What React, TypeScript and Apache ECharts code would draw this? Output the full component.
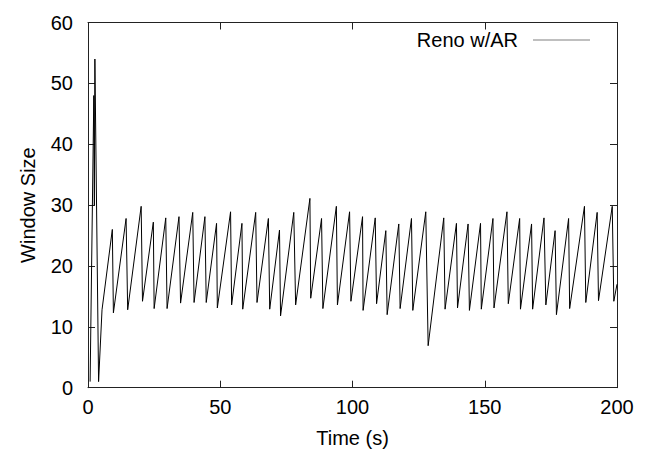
import React, { useEffect, useRef } from "react";
import * as echarts from "echarts";

const times: number[] = [
  0.8, 2.2, 2.4, 2.6, 4.0, 5.3,
  9.2, 9.6, 14.4, 15.0, 20.1, 20.6, 24.7, 25.0, 29.4, 29.9, 34.4, 35.0, 39.6, 40.1,
  44.2, 44.7, 48.6, 48.9, 53.9, 54.3, 58.2, 58.5, 63.4, 63.9, 68.2, 68.7, 72.4, 72.8,
  77.8, 78.5, 83.9, 84.2, 88.3, 88.8, 93.9, 94.3, 98.9, 99.4, 103.8, 104.0, 108.6, 109.1,
  112.6, 113.1, 117.5, 118.0, 122.3, 122.8, 127.7, 128.6, 134.5, 135.0, 139.3, 139.7,
  143.7, 144.2, 148.4, 148.7, 153.1, 153.5, 158.4, 158.9, 163.2, 163.5, 167.7, 168.1,
  172.4, 173.1, 176.6, 177.1, 181.7, 182.1, 187.7, 188.2, 192.5, 193.0, 198.2, 198.8, 200,
];

const windowSizes: number[] = [
  1, 48, 30, 54, 1, 12.8,
  26, 12.3, 27.8, 12.8, 29.8, 14.2, 27.2, 13, 27.9, 13, 28.1, 13.9, 28.8, 14,
  28.1, 14, 27, 13.1, 28.9, 13.6, 27, 12.9, 28.8, 14, 27.8, 12.9, 25.9, 11.8,
  28.8, 13.6, 31.1, 14.7, 27.8, 13, 29.8, 13.6, 28.9, 14.2, 28.1, 12.7, 27.9, 13.8,
  25.8, 12, 26.9, 13, 27.8, 12.7, 28.9, 6.9, 27.9, 12.9, 27, 13.1,
  26.9, 12.7, 27, 12.9, 27.8, 13.1, 28.9, 13.8, 27.8, 12.9, 26.9, 12.9,
  27.9, 13.6, 25.8, 12, 27.8, 13, 29.8, 14, 28.8, 14.3, 29.8, 14.2, 17,
];

const seriesName = "Reno w/AR";
const xTitle = "Time (s)";
const yTitle = "Window Size";

export default function App() {
  const ref = useRef<HTMLDivElement>(null);
  useEffect(() => {
    if (!ref.current) return;
    const chart = echarts.init(ref.current, null, { renderer: "svg" });
    const font = "'Liberation Sans', Arial, Helvetica, sans-serif";
    const frame = { lineStyle: { color: "#222", width: 1 } };
    const tick = { show: true, inside: true, length: 7, lineStyle: { color: "#222", width: 1 } };
    chart.setOption({
      animation: false,
      backgroundColor: "#fff",
      grid: { left: 88, right: 30, top: 22.5, bottom: 68.3, containLabel: false },
      legend: {
        show: true,
        right: 57,
        top: 30,
        padding: 0,
        align: "right",
        itemWidth: 57,
        itemHeight: 20,
        data: [{ name: seriesName, icon: "path://M0,10 L57,10 L57,10.6 L0,10.6 Z" }],
        textStyle: { fontFamily: font, fontSize: 20, color: "#000", padding: [0, 10, 0, 0] },
      },
      xAxis: [
        {
          type: "value",
          min: 0,
          max: 200,
          interval: 50,
          position: "bottom",
          name: xTitle,
          nameLocation: "middle",
          nameGap: 40,
          nameTextStyle: { fontFamily: font, fontSize: 20, color: "#000" },
          axisLine: { show: true, onZero: false, ...frame },
          axisTick: tick,
          axisLabel: { fontFamily: font, fontSize: 20, color: "#000", margin: 9 },
          splitLine: { show: false },
        },
        {
          type: "value",
          min: 0,
          max: 200,
          interval: 50,
          position: "top",
          axisLine: { show: true, onZero: false, ...frame },
          axisTick: tick,
          axisLabel: { show: false },
          splitLine: { show: false },
        },
      ],
      yAxis: [
        {
          type: "value",
          min: 0,
          max: 60,
          interval: 10,
          position: "left",
          name: yTitle,
          nameLocation: "middle",
          nameGap: 50,
          nameRotate: 90,
          nameTextStyle: { fontFamily: font, fontSize: 20, color: "#000" },
          axisLine: { show: true, onZero: false, ...frame },
          axisTick: tick,
          axisLabel: { fontFamily: font, fontSize: 20, color: "#000", margin: 15 },
          splitLine: { show: false },
        },
        {
          type: "value",
          min: 0,
          max: 60,
          interval: 10,
          position: "right",
          axisLine: { show: true, onZero: false, ...frame },
          axisTick: tick,
          axisLabel: { show: false },
          splitLine: { show: false },
        },
      ],
      series: [
        {
          name: seriesName,
          type: "line",
          xAxisIndex: 0,
          yAxisIndex: 0,
          data: times.map((t, i) => [t, windowSizes[i]]),
          showSymbol: false,
          symbol: "none",
          lineStyle: { color: "#000", width: 1 },
          itemStyle: { color: "#000" },
        },
      ],
    });
    return () => chart.dispose();
  }, []);
  return (
    <div
      ref={ref}
      style={{ position: "fixed", left: 0, top: 0, width: 647, height: 456, background: "#fff" }}
    />
  );
}
